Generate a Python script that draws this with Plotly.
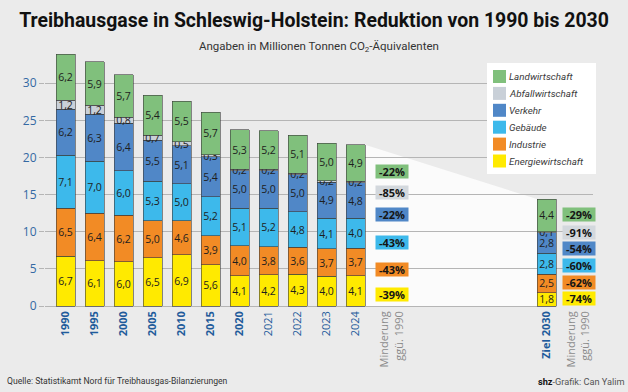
import plotly.graph_objects as go

# ---------------- data ----------------
categories = ["1990", "1995", "2000", "2005", "2010", "2015", "2020",
              "2021", "2022", "2023", "2024", "Ziel 2030"]
energiewirtschaft = [6.7, 6.1, 6.0, 6.5, 6.9, 5.6, 4.1, 4.2, 4.3, 4.0, 4.1, 1.8]
industrie = [6.5, 6.4, 6.2, 5.0, 4.6, 3.9, 4.0, 3.8, 3.6, 3.7, 3.7, 2.5]
gebaeude = [7.1, 7.0, 6.0, 5.3, 5.0, 5.2, 5.1, 5.2, 4.8, 4.1, 4.0, 2.8]
verkehr = [6.2, 6.3, 6.4, 5.5, 5.1, 5.4, 5.0, 5.0, 5.0, 4.9, 4.8, 2.8]
abfallwirtschaft = [1.2, 1.2, 0.8, 0.7, 0.5, 0.3, 0.2, 0.2, 0.2, 0.2, 0.2, 0.1]
landwirtschaft = [6.2, 5.9, 5.7, 5.4, 5.5, 5.7, 5.3, 5.2, 5.1, 5.0, 4.9, 4.4]

sector_names = ["Energiewirtschaft", "Industrie", "Gebäude", "Verkehr",
                "Abfallwirtschaft", "Landwirtschaft"]
sector_values = [energiewirtschaft, industrie, gebaeude, verkehr,
                 abfallwirtschaft, landwirtschaft]
minderung_2024 = [-39, -43, -43, -22, -85, -22]
minderung_2030 = [-74, -62, -60, -54, -91, -29]
minderung_label = "Minderung<br>ggü. 1990"
y_ticks = [0, 5, 10, 15, 20, 25, 30]

title_text = "Treibhausgase in Schleswig-Holstein: Reduktion von 1990 bis 2030"
subtitle_text = "Angaben in Millionen Tonnen CO<sub>2</sub>-Äquivalenten"
source_text = "Quelle: Statistikamt Nord für Treibhausgas-Bilanzierungen"
credit_text = "<b>shz</b><span style='color:#555'>-Grafik: Can Yalim</span>"

# ---------------- style / layout constants ----------------
COLORS = ["#ffea00", "#f28b25", "#3db9eb", "#5087c7", "#c9d0d8", "#80c07c"]
BOX_COLORS = ["#ffea00", "#f28b25", "#3db9eb", "#5087c7", "#d3d8dd", "#80c07c"]
BG = "#ebebeb"
GRID = "#b5b5b5"
BLUE = "#1f5b9b"
FONT = "Open Sans"

FIG_W, FIG_H = 628, 392
M_L, M_R, M_T, M_B = 45, 35, 46, 84
PW, PH = FIG_W - M_L - M_R, FIG_H - M_T - M_B
Y_MIN, Y_MAX = -0.25, 35
PX_PER_Y = PH / (Y_MAX - Y_MIN)
Y0_PX = M_T + Y_MAX * PX_PER_Y          # pixel row of value 0
STEP_PX, X0_PX = 29.0, 65.5              # category spacing / first bar centre
BAR_W = 19 / STEP_PX

X_POS = list(range(11)) + [16.59]        # bar slot positions
MIND_X = [11.26, 17.69]                  # "Minderung" columns
BOLD = {"1990", "1995", "2000", "2005", "2010", "2015", "2020", "Ziel 2030"}


def xd(px):  # pixel column -> x data
    return (px - X0_PX) / STEP_PX


def yd(py):  # pixel row -> y data
    return (Y0_PX - py) / PX_PER_Y


def xp(px):  # pixel -> paper x
    return (px - M_L) / PW


def yp(py):  # pixel -> paper y
    return (FIG_H - M_B - py) / PH


BOX_ROWS_L = [294, 269, 242, 214, 192, 171]
BOX_ROWS_R = [298, 282, 265, 248, 232, 214]

fig = go.Figure()

for name, vals, col in zip(sector_names, sector_values, COLORS):
    fig.add_trace(go.Bar(
        x=X_POS, y=vals, name=name, width=BAR_W,
        marker=dict(color=col, line=dict(color="rgba(60,60,60,0.75)", width=0.8)),
        texttemplate="%{y:.1f}", textposition="inside", insidetextanchor="middle",
        textangle=0, textfont=dict(family=FONT, size=10.5, color="#1e1e1e"),
        showlegend=False, hoverinfo="skip",
    ))

# white wedge between the 2024 bar and the 2030 target bar
tot_2024 = sum(v[10] for v in sector_values)
tot_2030 = sum(v[11] for v in sector_values)
xa, xb = X_POS[10] + BAR_W / 2, X_POS[11] - BAR_W / 2
shapes = [
    dict(type="path", layer="below", xref="x", yref="y",
         path=f"M {xa} 0 L {xa} {tot_2024} L {xb} {tot_2030} L {xb} 0 Z",
         fillcolor="#fbfbfb", line=dict(width=0)),
    # hide the zero line right of the target bar
    dict(type="rect", layer="between", xref="x", yref="y",
         x0=X_POS[11] + BAR_W / 2 + 0.02, x1=xd(FIG_W), y0=-0.25, y1=0.25,
         fillcolor=BG, line=dict(width=0)),
]

annotations = []
# percentage boxes
for vals, xs, rows in ((minderung_2024, MIND_X[0], BOX_ROWS_L),
                       (minderung_2030, MIND_X[1], BOX_ROWS_R)):
    for v, row, col in zip(vals, rows, BOX_COLORS):
        annotations.append(dict(
            x=xs, y=yd(row), xref="x", yref="y", text=f"<b>{v}%</b>",
            showarrow=False, bgcolor=col, width=32, height=13, borderpad=0,
            font=dict(family=FONT, size=11, color="#151515")))

# legend (manual, top right)
shapes.append(dict(type="rect", xref="paper", yref="paper", layer="above",
                   x0=xp(487), x1=xp(596), y0=yp(174), y1=yp(63),
                   fillcolor="white", line=dict(width=0)))
for k, (name, col) in enumerate(zip(sector_names[::-1], COLORS[::-1])):
    cy = 76.5 + 16.9 * k
    shapes.append(dict(type="rect", xref="paper", yref="paper", layer="above",
                       x0=xp(493), x1=xp(506), y0=yp(cy + 6.5), y1=yp(cy - 6.5),
                       fillcolor=col, line=dict(width=0)))
    annotations.append(dict(x=xp(507), y=yp(cy), xref="paper", yref="paper",
                            text=f"<i>{name}</i>", showarrow=False,
                            xanchor="left", yanchor="middle",
                            font=dict(family="Roboto", size=9.8, color="#3a3a3a")))

# subtitle, source, credit
annotations += [
    dict(x=0.5, y=yp(46), xref="paper", yref="paper", text=subtitle_text,
         showarrow=False, xanchor="center", yanchor="middle",
         font=dict(family="Roboto", size=11.5, color="#333")),
    dict(x=xp(5), y=yp(381), xref="paper", yref="paper", text=source_text,
         showarrow=False, xanchor="left", yanchor="middle",
         font=dict(family="Roboto", size=8.6, color="#333")),
    dict(x=xp(627), y=yp(381), xref="paper", yref="paper", text=credit_text,
         showarrow=False, xanchor="right", yanchor="middle",
         font=dict(family="Roboto", size=9.2, color="#111")),
]

tick_vals = X_POS + MIND_X
tick_text = [f"<b>{c}</b>" if c in BOLD else c for c in categories]
mind_tt = f"<span style='color:#8c8c8c'>{minderung_label}</span>"
tick_text = tick_text + [mind_tt, mind_tt]

for a in annotations:
    fig.add_annotation(**a)

fig.update_layout(
    width=FIG_W, height=FIG_H,
    margin=dict(l=M_L, r=M_R, t=M_T, b=M_B, pad=0),
    paper_bgcolor=BG, plot_bgcolor=BG,
    barmode="stack", separators=",.",
    uniformtext=dict(minsize=10.5, mode="show"),
    title=dict(text=f"<b>{title_text}</b>", x=0.5, xanchor="center",
               y=1 - 20 / FIG_H, yanchor="middle",
               font=dict(family="Roboto", size=19.45, color="#111")),
    shapes=shapes,
    xaxis=dict(range=[xd(M_L), xd(FIG_W - M_R)], tickvals=tick_vals, ticktext=tick_text,
               tickangle=-90, showgrid=False, zeroline=False, showline=False, ticks="",
               tickfont=dict(family=FONT, size=11, color=BLUE)),
    yaxis=dict(range=[Y_MIN, Y_MAX], tickvals=y_ticks, showgrid=True, gridcolor=GRID,
               gridwidth=1, zeroline=False, showline=False, ticks="outside", ticklen=5,
               tickcolor=GRID, tickfont=dict(family=FONT, size=12, color="#3469a3")),
)

fig.write_html("out.html", config={"displayModeBar": False},
               post_script="document.body.style.margin='0';document.body.style.overflow='hidden';")
